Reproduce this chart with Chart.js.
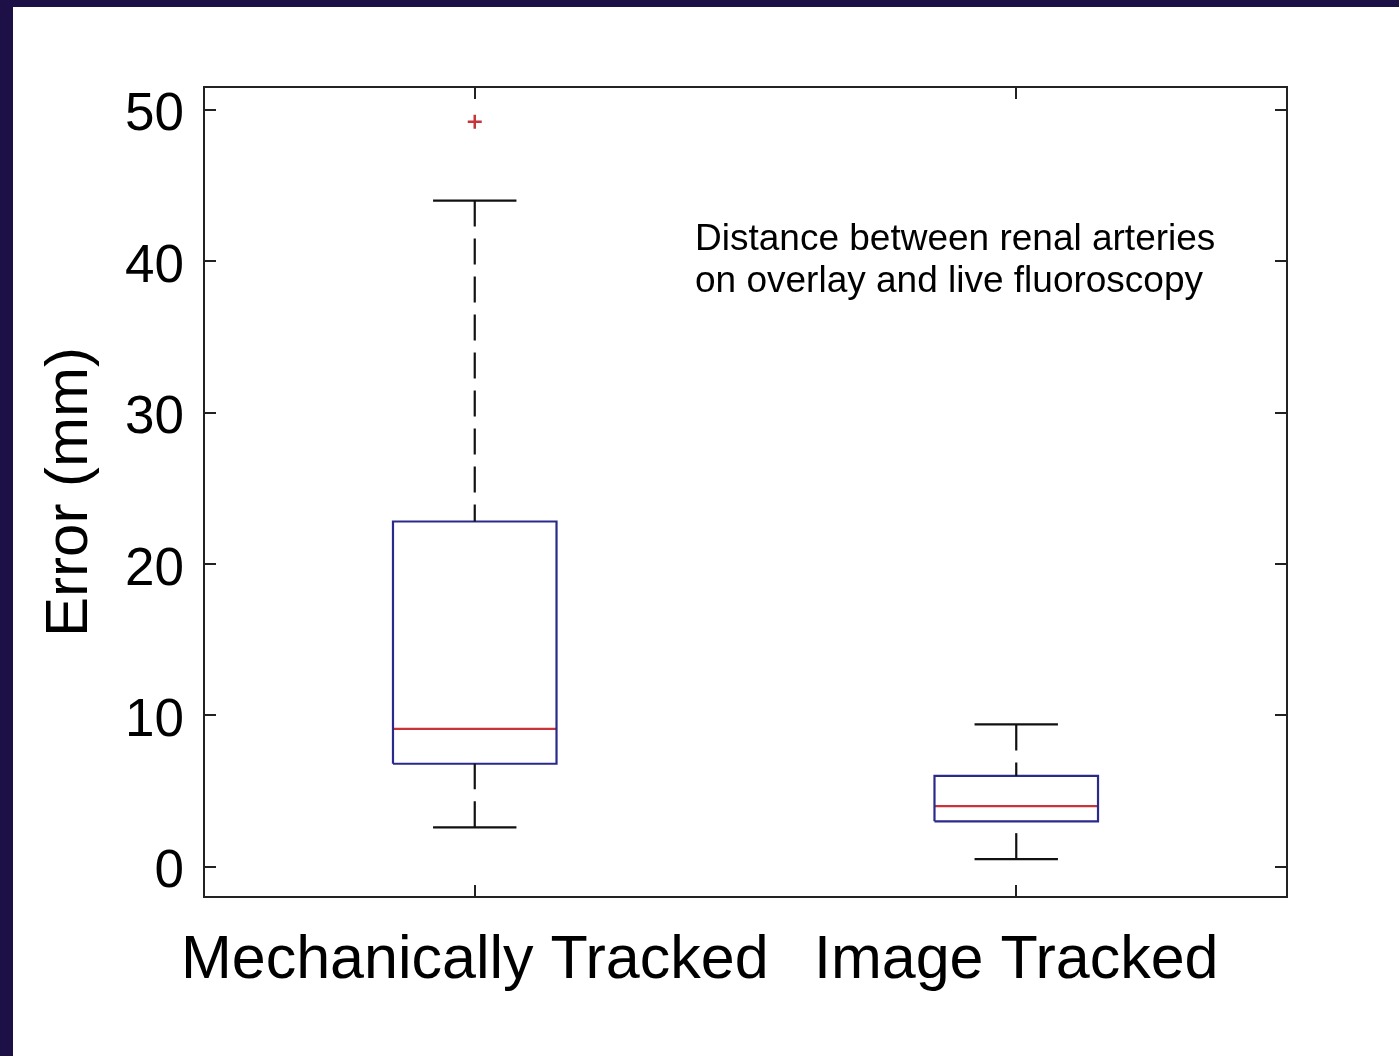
<!DOCTYPE html>
<html><head><meta charset="utf-8">
<script src="https://cdn.jsdelivr.net/npm/chart.js@4.4.0/dist/chart.umd.min.js"></script>
<style>
html,body{margin:0;padding:0;background:#fff;width:1399px;height:1056px;overflow:hidden;}
#wrap{position:relative;width:1399px;height:1056px;}
canvas{position:absolute;left:0;top:0;}
.bl{position:absolute;left:0;top:0;width:13px;height:1056px;background:#1d1046;}
.bt{position:absolute;left:0;top:0;width:1399px;height:7px;background:#1d1046;}
</style></head><body>
<div id="wrap"><canvas id="c" width="1399" height="1056"></canvas><div class="bl"></div><div class="bt"></div></div>
<script>
// ---- data ----
const categories = ['Mechanically Tracked', 'Image Tracked'];
const whiskerLow  = [2.6, 0.5];
const q1          = [6.8, 3.0];
const median      = [9.1, 4.0];
const q3          = [22.8, 6.0];
const whiskerHigh = [44.0, 9.4];
const outliers    = [[49.2], []];
const yTicks      = [0, 10, 20, 30, 40, 50];
const annotation  = ['Distance between renal arteries', 'on overlay and live fluoroscopy'];

// ---- styles ----
const BOX_HALF = 0.151, CAP_HALF = 0.077;
const BOX_COLOR = '#2a2a8c', MED_COLOR = '#c8343a', WHISK = '#111';
const FONT = '"Liberation Sans", Arial, Helvetica, sans-serif';

const datasets = [];
categories.forEach((c, i) => {
  const x = i + 1;
  const seg = (pts, color, dash) => datasets.push({
    data: pts, showLine: true, borderColor: color, borderWidth: 2.2,
    borderDash: dash || [], pointRadius: 0, fill: false, tension: 0
  });
  seg([{x, y: whiskerHigh[i]}, {x, y: q3[i]}], WHISK, [26, 12]);
  seg([{x, y: whiskerLow[i]}, {x, y: q1[i]}], WHISK, [26, 12]);
  seg([{x: x - CAP_HALF, y: whiskerHigh[i]}, {x: x + CAP_HALF, y: whiskerHigh[i]}], WHISK);
  seg([{x: x - CAP_HALF, y: whiskerLow[i]}, {x: x + CAP_HALF, y: whiskerLow[i]}], WHISK);
  seg([{x: x - BOX_HALF, y: q1[i]}, {x: x + BOX_HALF, y: q1[i]}, {x: x + BOX_HALF, y: q3[i]},
       {x: x - BOX_HALF, y: q3[i]}, {x: x - BOX_HALF, y: q1[i]}], BOX_COLOR);
  seg([{x: x - BOX_HALF, y: median[i]}, {x: x + BOX_HALF, y: median[i]}], MED_COLOR);
  if (outliers[i].length) datasets.push({
    data: outliers[i].map(v => ({x, y: v})), showLine: false,
    pointStyle: 'cross', pointRadius: 7, borderColor: MED_COLOR, borderWidth: 2.5, backgroundColor: MED_COLOR
  });
});

const framePlugin = {
  id: 'frame',
  afterDatasetsDraw(chart) {
    const {ctx, chartArea: a, scales: {x, y}} = chart;
    ctx.save();
    ctx.strokeStyle = '#222';
    ctx.lineWidth = 2;
    const T = 12;
    ctx.beginPath();
    yTicks.forEach(v => {
      const py = Math.round(y.getPixelForValue(v));
      ctx.moveTo(a.left, py); ctx.lineTo(a.left + T, py);
      ctx.moveTo(a.right, py); ctx.lineTo(a.right - T, py);
    });
    categories.forEach((c, i) => {
      const px = Math.round(x.getPixelForValue(i + 1));
      ctx.moveTo(px, a.bottom); ctx.lineTo(px, a.bottom - T);
      ctx.moveTo(px, a.top); ctx.lineTo(px, a.top + T);
    });
    ctx.stroke();
    ctx.strokeRect(a.left, a.top, a.right - a.left, a.bottom - a.top);
    // annotation text
    ctx.fillStyle = '#000';
    ctx.font = '37px ' + FONT;
    ctx.textAlign = 'left';
    ctx.textBaseline = 'alphabetic';
    const ax = a.left + 491;
    ctx.fillText(annotation[0], ax, a.top + 163);
    ctx.fillText(annotation[1], ax, a.top + 205);
    ctx.restore();
  }
};

new Chart(document.getElementById('c'), {
  type: 'scatter',
  data: { datasets },
  options: {
    responsive: false,
    animation: false,
    devicePixelRatio: 1,
    layout: { padding: { top: 87, right: 112, left: 0, bottom: 0 } },
    plugins: { legend: { display: false }, tooltip: { enabled: false } },
    scales: {
      x: {
        type: 'linear', min: 0.5, max: 2.5,
        grid: { display: false }, border: { display: false },
        afterBuildTicks: s => { s.ticks = categories.map((c, i) => ({ value: i + 1 })); },
        afterFit: s => { s.height = 159; },
        ticks: {
          autoSkip: false, maxRotation: 0, minRotation: 0, padding: 20, color: '#000',
          font: { size: 61, family: FONT },
          callback: v => categories[v - 1]
        }
      },
      y: {
        type: 'linear', min: -2, max: 51.5,
        grid: { display: false }, border: { display: false },
        afterBuildTicks: s => { s.ticks = yTicks.map(v => ({ value: v })); },
        afterFit: s => { s.width = 204; },
        ticks: { padding: 12, labelOffset: 6, color: '#000', font: { size: 53, family: FONT } },
        title: { display: true, text: 'Error (mm)', color: '#000',
                 font: { size: 60, family: FONT }, padding: { top: 34, bottom: 0 } }
      }
    }
  },
  plugins: [framePlugin]
});
</script>
</body></html>
